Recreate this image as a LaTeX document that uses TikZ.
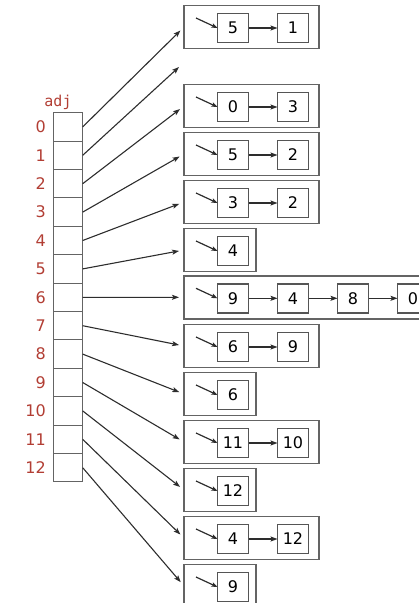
\documentclass[tikz,border=0pt]{standalone}
\usepackage{fontspec}
\setmainfont{DejaVu Sans}
\newfontfamily\adjfont{DejaVu Sans Mono}
\usetikzlibrary{arrows.meta}
\definecolor{idxred}{RGB}{178,62,52}
\definecolor{framegray}{RGB}{100,100,100}
\definecolor{wire}{RGB}{45,45,45}

\begin{document}
\begin{tikzpicture}[x=1pt,y=-1pt,
  cell/.style={draw=framegray, line width=1.1pt, minimum width=29.4pt,
    minimum height=28.4pt, inner sep=0pt, outer sep=0pt},
  idx/.style={text=idxred, font=\fontsize{16}{16}\selectfont, anchor=east, inner sep=0pt},
  bag/.style={draw=framegray, line width=1.8pt, minimum height=43pt,
    inner sep=0pt, outer sep=0pt, anchor=west},
  item/.style={draw=framegray!85!black, line width=1.4pt, minimum width=31pt,
    minimum height=29pt, inner sep=0pt, outer sep=0pt,
    font=\fontsize{16}{16}\selectfont, text=black},
  link/.style={-{Stealth[length=7pt,width=5pt,inset=1.5pt]}, draw=wire, line width=1.1pt},
  hook/.style={-{Stealth[length=6pt,width=4.5pt,inset=1.2pt]}, draw=wire, line width=1.2pt},
]
\useasboundingbox (0,0) rectangle (419,603);
\clip (0,0) rectangle (419,603);

% the adj[] array with its indices
\node[text=idxred, font=\adjfont\fontsize{15}{15}\selectfont, anchor=base, inner sep=0pt]
  (adj) at (58,106) {adj};
\foreach \i in {0,...,12}{
  \node[cell] (a\i) at (68,{126.9+28.4*\i}) {};
  \node[idx] (n\i) at (46,{126.9+28.4*\i}) {\i};
}

% adjacency lists: vertex / centre y / item count / items
\foreach \v/\y/\n/\items in {0/27/2/{5,1}, 2/106/2/{0,3}, 3/154/2/{5,2},
    4/202/2/{3,2}, 5/250/1/{4}, 6/297.3/4/{9,4,8,0}, 7/346/2/{6,9},
    8/394/1/{6}, 9/442/2/{11,10}, 10/490/1/{12}, 11/538/2/{4,12}, 12/586/1/{9}}{
  \node[bag, minimum width={72+63*(\n-1)}] (L\v) at (184,\y) {};
  \foreach \w [count=\k from 0, remember=\k as \lastk (initially -1)] in \items {
    \node[item] (b\v-\k) at ({233+60*\k},{\y+1}) {\w};
    \ifnum\k>0 \draw[link] (b\v-\lastk) -- (b\v-\k); \fi
  }
  \coordinate (p\v) at (196,{\y-9});
  \draw[hook] (p\v) -- (b\v-0.west);
  \draw[link, shorten >=5pt] (a\v.east) -- (L\v.west);
}

% vertex 1 has an empty list
\coordinate (e1) at (179,67);
\draw[link] (a1.east) -- (e1);
\end{tikzpicture}
\end{document}
